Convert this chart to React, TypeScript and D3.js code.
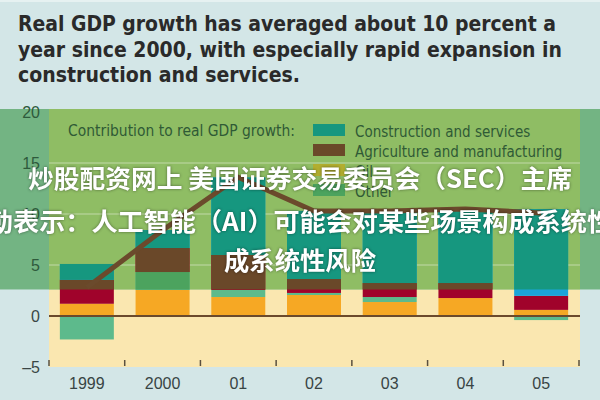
import React from 'react';
import * as d3 from 'd3';

// Values (percentage points)
const categories = ['1999', '2000', '01', '02', '03', '04', '05'];
const construction = [1.55, 1.76, 7.6, 6.67, 7.06, 7.25, 8.5];
const agriculture = [2.35, 2.35, 3.43, 1.37, 1.37, 1.47, 1.37];
const oil = [1.2, 2.55, 1.86, 2.06, 1.37, 1.76, 0.6];
const other = [-2.3, 1.76, 0.69, 0.2, 0.49, 0, -0.4];
const gdpGrowth = [2.8, 8.4, 13.6, 10.3, 10.3, 10.5, 10.1];

const seriesKeys = ['oil', 'other', 'agriculture', 'construction'];
const legendKeys = ['construction', 'agriculture', 'oil', 'other'];
const legendLabels = ['Construction and services', 'Agriculture and manufacturing', 'Oil', 'Other'];
const yTicks = [-5, 0, 5, 10, 15, 20];
const gridTicks = [5, 10, 15];

const titleLines = [
  'Real GDP growth has averaged about 10 percent a',
  'year since 2000, with especially rapid expansion in',
  'construction and services.',
];
const watermarkLines = [
  '炒股配资网上 美国证券交易委员会（SEC）主席',
  '勒表示：人工智能（AI）可能会对某些场景构成系统性',
  '成系统性风险',
];

// colours as printed, and as they look inside the green highlight band
const trueColors: Record<string, string> = {
  construction: '#1ba4da',
  agriculture: '#a0032b',
  oil: '#f6a824',
  other: '#5dba8c',
};
const bandColors: Record<string, string> = {
  construction: '#16977f',
  agriculture: '#6a4829',
  oil: '#b2ae2f',
  other: '#4ca35e',
};

const App: React.FC = () => {
  const W = 600;
  const H = 400;
  const plot = { left: 49, right: 579, top: 112, bottom: 367 };

  const x = d3.scaleBand<string>()
    .domain(categories)
    .range([plot.left, plot.right])
    .paddingInner(0.287)
    .paddingOuter(0.1435);

  const y = d3.scaleLinear().domain([-5, 20]).range([plot.bottom, plot.top]);

  const rows = categories.map((c, i) => ({
    cat: c,
    oil: oil[i],
    other: other[i],
    agriculture: agriculture[i],
    construction: construction[i],
  }));

  const layers = d3.stack<any>()
    .keys(seriesKeys)
    .offset(d3.stackOffsetDiverging)(rows);

  const bandTop = 109;
  const bandBottom = y(2.6);

  const line = d3.line<number>()
    .x((_, i) => (x(categories[i]) || 0) + x.bandwidth() / 2)
    .y(d => y(d));

  const gap = (x.step() - x.bandwidth()) / 2;
  const tickXs = categories.map(c => (x(c) || 0) - gap).concat([plot.right]);

  const bars = (colors: Record<string, string>) =>
    layers.map(layer => (
      <g key={layer.key} fill={colors[layer.key]}>
        {layer.map((d, i) => {
          const y0 = y(d[0]);
          const y1 = y(d[1]);
          return (
            <rect
              key={i}
              x={x(categories[i])}
              y={Math.min(y0, y1)}
              width={x.bandwidth()}
              height={Math.abs(y0 - y1)}
            />
          );
        })}
      </g>
    ));

  const sans = '"Liberation Sans Narrow", "DejaVu Sans Condensed", "Liberation Sans", sans-serif';

  return (
    <svg
      width={W}
      height={H}
      style={{ position: 'absolute', left: 0, top: 0, display: 'block' }}
      fontFamily={sans}
    >
      <defs>
        <clipPath id="band">
          <rect x={0} y={bandTop} width={W} height={bandBottom - bandTop} />
        </clipPath>
      </defs>

      {/* backgrounds */}
      <rect x={0} y={0} width={W} height={H} fill="#d3e6e7" />
      <rect x={0} y={0} width={W} height={2} fill="#e6f1f1" />
      <rect x={0} y={bandTop} width={W} height={bandBottom - bandTop} fill="#73b483" />
      <rect x={plot.left} y={bandBottom} width={plot.right + 1 - plot.left} height={plot.bottom - bandBottom} fill="#fae7b0" />
      <rect x={plot.left} y={bandTop} width={plot.right + 1 - plot.left} height={bandBottom - bandTop} fill="#8fbd64" />

      {/* gridlines */}
      {gridTicks.map(t => (
        <line key={t} x1={plot.left} x2={plot.right + 1} y1={y(t)} y2={y(t)} stroke="#ffffff" strokeOpacity={0.3} strokeWidth={1.5} />
      ))}

      {/* legend */}
      <text x={68} y={136} fontSize={15} fill="#2f5a36" textLength={227} lengthAdjust="spacingAndGlyphs">
        Contribution to real GDP growth:
      </text>
      {legendKeys.map((k, i) => (
        <g key={k}>
          <rect x={313} y={124 + i * 20} width={32} height={12} fill={bandColors[k]} />
          <text x={355} y={137 + i * 20} fontSize={15} fill="#2f5a36">
            {legendLabels[i]}
          </text>
        </g>
      ))}

      {/* bars */}
      <g>{bars(trueColors)}</g>
      <g clipPath="url(#band)">{bars(bandColors)}</g>

      {/* zero line */}
      <line x1={plot.left} x2={plot.right + 1} y1={y(0)} y2={y(0)} stroke="#6b4a2c" strokeWidth={2} />

      {/* real GDP growth */}
      <path d={line(gdpGrowth) || ''} fill="none" stroke="#6b4a2c" strokeWidth={5} strokeLinejoin="miter" />

      {/* x ticks and labels */}
      {tickXs.map((tx, i) => (
        <line key={i} x1={tx} x2={tx} y1={360} y2={366} stroke="#5a5040" strokeWidth={1.5} />
      ))}
      {categories.map(c => (
        <text
          key={c}
          x={(x(c) || 0) + x.bandwidth() / 2}
          y={389}
          fontSize={16}
          textAnchor="middle"
          fill="#384444"
          fontFamily='"Liberation Sans", sans-serif'
        >
          {c}
        </text>
      ))}

      {/* y labels */}
      {yTicks.map(t => (
        <text
          key={t}
          x={40}
          y={y(t) + 6}
          fontSize={16}
          textAnchor="end"
          fill={t >= 5 ? '#2e5a3c' : '#3a4646'}
          fontFamily='"Liberation Sans", sans-serif'
        >
          {t < 0 ? `–${Math.abs(t)}` : t}
        </text>
      ))}

      {/* title */}
      {titleLines.map((s, i) => (
        <text
          key={i}
          x={18}
          y={31 + i * 25.5}
          fontSize={22}
          fontWeight={700}
          fill="#2a2a2a"
          textLength={[538, 544, 282][i]}
          lengthAdjust="spacingAndGlyphs"
        >
          {s}
        </text>
      ))}

      {/* overlay text */}
      <g
        fontFamily='"Noto Sans CJK SC", sans-serif'
        fontWeight={700}
        fontSize={25}
        fill="#ffffff"
        textAnchor="middle"
        style={{ filter: 'drop-shadow(0px 0px 1.5px rgba(0,0,0,0.45))' }}
      >
        {watermarkLines.map((s, i) => (
          <text
            key={i}
            x={300}
            y={[188, 231, 270][i]}
            textLength={[544, 626, 152][i]}
            lengthAdjust="spacingAndGlyphs"
          >
            {s}
          </text>
        ))}
      </g>
    </svg>
  );
};

export default App;
